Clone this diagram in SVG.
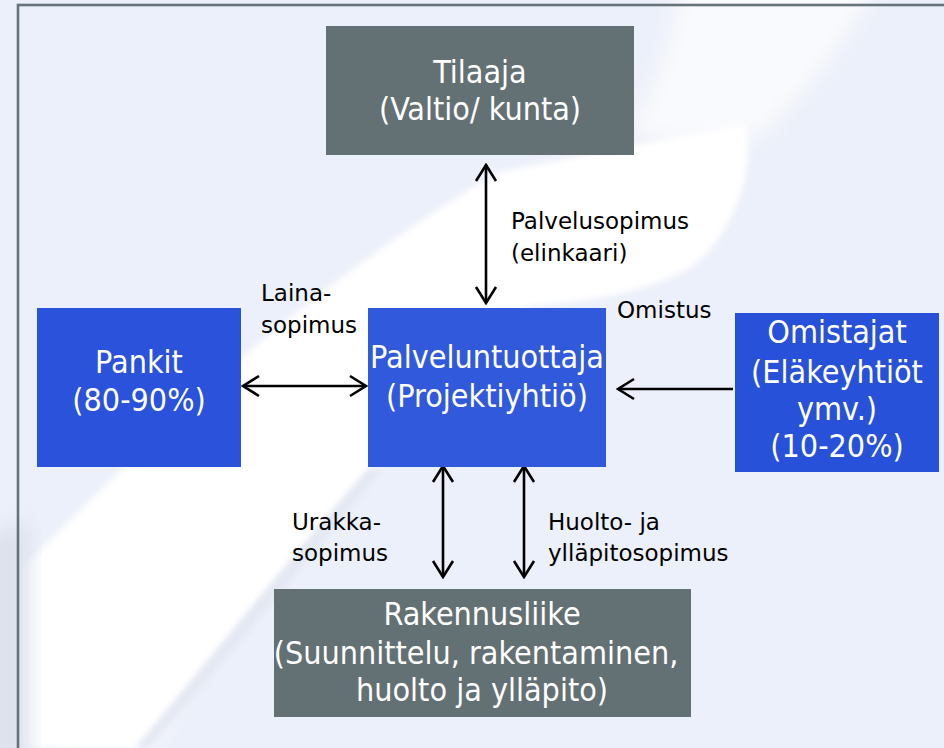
<svg xmlns="http://www.w3.org/2000/svg" width="944" height="748" viewBox="0 0 944 748">
<style>
.node-text{font-family:"DejaVu Sans Condensed","DejaVu Sans",sans-serif;font-size:32px;fill:#ffffff;text-anchor:middle}
.lbl{font-family:"DejaVu Sans",sans-serif;font-size:23px;fill:#000000}
.gray{fill:#647174}
.conn{stroke:#000;stroke-width:2.6;fill:none;marker-start:url(#head);marker-end:url(#head)}
</style>
<defs>
<marker id="head" viewBox="0 0 20 24" refX="18" refY="12" markerWidth="20" markerHeight="24" markerUnits="userSpaceOnUse" orient="auto-start-reverse">
<path d="M2,2 L18,12 L2,22" fill="none" stroke="#000" stroke-width="2.6"/>
</marker>
<filter id="blur" x="-20%" y="-20%" width="140%" height="140%"><feGaussianBlur stdDeviation="10"/></filter>
<filter id="blur2" x="-20%" y="-20%" width="140%" height="140%"><feGaussianBlur stdDeviation="3"/></filter>
</defs>
<!-- background -->
<rect x="0" y="0" width="944" height="748" fill="#ecf0fa"/>
<path d="M680 -20 L880 -20 C840 50 800 100 760 135 C700 150 650 140 630 130 C660 80 675 30 680 -20 Z" fill="#f9fafd" filter="url(#blur)"/>
<path d="M20 748 L20 570 C110 480 210 380 300 310 C370 255 440 205 500 172 C600 152 680 136 745 124 C758 170 730 240 690 268 C640 295 580 302 530 306 C470 370 420 430 370 468 C290 560 210 660 135 748 Z" fill="#ffffff" filter="url(#blur2)"/>
<path d="M60 748 C140 640 220 560 300 480 C260 560 200 660 150 748 Z" fill="#ffffff" filter="url(#blur)"/>
<path d="M-30 540 L30 520 L30 760 L-30 760 Z" fill="#dde2ec" filter="url(#blur)"/>
<path d="M135 748 C210 660 290 560 370 468 L380 472 C300 570 225 660 150 748 Z" fill="#e4e8f2" filter="url(#blur2)"/>
<!-- frame -->
<rect x="18" y="5" width="940" height="760" fill="none" stroke="#66737a" stroke-width="2.6"/>
<!-- connectors -->
<g id="connectors">
<line class="conn" x1="486" y1="165" x2="486" y2="303"/>
<line class="conn" x1="243" y1="386" x2="366" y2="386"/>
<line x1="733" y1="389" x2="618" y2="389" stroke="#000" stroke-width="2.6" marker-end="url(#head)"/>
<line class="conn" x1="443" y1="466" x2="443" y2="577"/>
<line class="conn" x1="524" y1="466" x2="524" y2="577"/>
</g>
<!-- labels -->
<g id="labels">
<text class="lbl" x="511" y="229">Palvelusopimus</text>
<text class="lbl" x="511" y="261">(elinkaari)</text>
<text class="lbl" x="617" y="318">Omistus</text>
<text class="lbl" x="261" y="301">Laina-</text>
<text class="lbl" x="261" y="333">sopimus</text>
<text class="lbl" x="292" y="530">Urakka-</text>
<text class="lbl" x="292" y="561">sopimus</text>
<text class="lbl" x="548" y="530">Huolto- ja</text>
<text class="lbl" x="548" y="561">ylläpitosopimus</text>
</g>
<!-- nodes -->
<g id="tilaaja">
<rect class="gray" x="326" y="26" width="308" height="129"/>
<text class="node-text" x="480" y="83">Tilaaja</text>
<text class="node-text" x="480" y="120">(Valtio/ kunta)</text>
</g>
<g id="palveluntuottaja">
<rect x="368" y="308" width="238" height="159" fill="#3059dc"/>
<text class="node-text" x="487" y="368">Palveluntuottaja</text>
<text class="node-text" x="487" y="407">(Projektiyhtiö)</text>
</g>
<g id="pankit">
<rect x="37" y="308" width="204" height="159" fill="#2a52da"/>
<text class="node-text" x="139" y="373">Pankit</text>
<text class="node-text" x="139" y="411">(80-90%)</text>
</g>
<g id="omistajat">
<rect x="735" y="313" width="204" height="159" fill="#2751d9"/>
<text class="node-text" x="837" y="343">Omistajat</text>
<text class="node-text" x="837" y="383">(Eläkeyhtiöt</text>
<text class="node-text" x="837" y="420">ymv.)</text>
<text class="node-text" x="837" y="457">(10-20%)</text>
</g>
<g id="rakennusliike">
<rect class="gray" x="274" y="589" width="417" height="128"/>
<text class="node-text" x="482" y="625">Rakennusliike</text>
<text class="node-text" x="476" y="664">(Suunnittelu, rakentaminen,</text>
<text class="node-text" x="482" y="701">huolto ja ylläpito)</text>
</g>
</svg>
